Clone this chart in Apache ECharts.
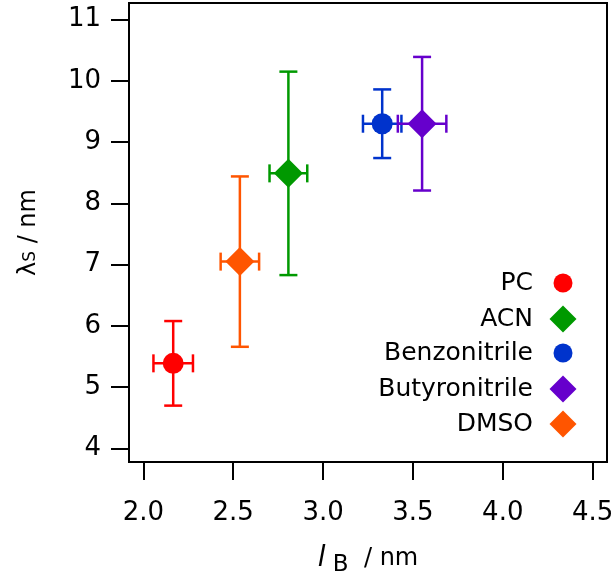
<!DOCTYPE html>
<html>
<head>
<meta charset="utf-8">
<script src="https://cdn.jsdelivr.net/npm/echarts@6/dist/echarts.min.js"></script>
<style>
html,body{margin:0;padding:0;background:#fff;}
#chart{width:616px;height:571px;}
</style>
</head>
<body>
<div id="chart"></div>
<script>
// ---- data ----
const solvents = ['PC', 'ACN', 'Benzonitrile', 'Butyronitrile', 'DMSO'];
const lB = [2.166, 2.807, 3.329, 3.551, 2.537];
const lBErr = [0.11, 0.105, 0.107, 0.135, 0.107];
const lambdaS = [5.39, 8.49, 9.30, 9.30, 7.05];
const lambdaSErr = [0.69, 1.66, 0.56, 1.09, 1.39];
const colors = ['#ff0000', '#009900', '#0033cc', '#6600cc', '#ff5500'];
const symbols = ['circle', 'diamond', 'circle', 'diamond', 'diamond'];
const xTicks = [2.0, 2.5, 3.0, 3.5, 4.0, 4.5];
const xTickLabels = ['2.0', '2.5', '3.0', '3.5', '4.0', '4.5'];
const yTicks = [4, 5, 6, 7, 8, 9, 10, 11];
const yTickLabels = ['4', '5', '6', '7', '8', '9', '10', '11'];

const FONT = 'DejaVu Sans';
const chart = echarts.init(document.getElementById('chart'), null, {renderer: 'canvas'});

const series = [];
solvents.forEach((name, i) => {
  series.push({
    name: name,
    type: 'custom',
    z: 2,
    silent: true,
    data: [[lB[i], lambdaS[i], lBErr[i], lambdaSErr[i]]],
    renderItem: function (params, api) {
      const x = api.value(0), y = api.value(1), ex = api.value(2), ey = api.value(3);
      const pT = api.coord([x, y + ey]);
      const pB = api.coord([x, y - ey]);
      const pL = api.coord([x - ex, y]);
      const pR = api.coord([x + ex, y]);
      const cap = 9;
      const st = {stroke: colors[i], lineWidth: 2.5, fill: null};
      return {
        type: 'group',
        children: [
          {type: 'line', shape: {x1: pT[0], y1: pT[1], x2: pB[0], y2: pB[1]}, style: st},
          {type: 'line', shape: {x1: pT[0] - cap, y1: pT[1], x2: pT[0] + cap, y2: pT[1]}, style: st},
          {type: 'line', shape: {x1: pB[0] - cap, y1: pB[1], x2: pB[0] + cap, y2: pB[1]}, style: st},
          {type: 'line', shape: {x1: pL[0], y1: pL[1], x2: pR[0], y2: pR[1]}, style: st},
          {type: 'line', shape: {x1: pL[0], y1: pL[1] - cap, x2: pL[0], y2: pL[1] + cap}, style: st},
          {type: 'line', shape: {x1: pR[0], y1: pR[1] - cap, x2: pR[0], y2: pR[1] + cap}, style: st}
        ]
      };
    }
  });
  series.push({
    name: name,
    type: 'scatter',
    z: 3,
    symbol: symbols[i],
    symbolSize: symbols[i] === 'circle' ? 21 : 29,
    itemStyle: {color: colors[i], opacity: 1},
    data: [[lB[i], lambdaS[i]]]
  });
});

const rowCenters = [283, 318, 353, 388, 423];
const legends = solvents.map((name, i) => {
  const isCircle = symbols[i] === 'circle';
  const sz = isCircle ? 19 : 27;
  return {
    orient: 'vertical',
    align: 'right',
    right: 616 - (563 + sz / 2),
    top: rowCenters[i] - sz / 2 + (isCircle ? -3 : 1),
    padding: 0,
    itemWidth: sz,
    itemHeight: sz,
    selectedMode: false,
    textStyle: {fontFamily: FONT, fontSize: 25, color: '#000', padding: [0, isCircle ? 15.5 : 11.5, 0, 0]},
    data: [{name: name, icon: symbols[i], itemStyle: {color: colors[i]}}]
  };
});

chart.setOption({
  animation: false,
  backgroundColor: '#fff',
  grid: {left: 129, right: 9, top: 3, bottom: 109, outerBoundsMode: 'none', containLabel: false,
         show: true, borderColor: '#000', borderWidth: 2, backgroundColor: 'transparent'},
  legend: legends,
  xAxis: {
    type: 'value',
    min: 1.92,
    max: 4.58,
    name: '{i|l}{b| B}{n|  / nm}',
    nameLocation: 'middle',
    nameGap: 78,
    nameTextStyle: {
      fontFamily: FONT, fontSize: 24, color: '#000',
      rich: {
        i: {fontFamily: FONT, fontSize: 28, fontStyle: 'italic', color: '#000'},
        b: {fontFamily: FONT, fontSize: 23, color: '#000', padding: [14, 0, 0, 0]},
        n: {fontFamily: FONT, fontSize: 24, color: '#000'}
      }
    },
    axisLine: {show: true, lineStyle: {color: '#000', width: 2}},
    axisTick: {show: true, length: 18, lineStyle: {color: '#000', width: 2}, customValues: xTicks},
    axisLabel: {
      fontFamily: FONT, fontSize: 26, color: '#000', margin: 38,
      customValues: xTicks,
      formatter: function (v) { const k = xTicks.findIndex(t => Math.abs(t - v) < 1e-6); return k >= 0 ? xTickLabels[k] : ''; }
    },
    splitLine: {show: false}
  },
  yAxis: {
    type: 'value',
    min: 3.78,
    max: 11.27,
    name: '{a|λ}{s|S}{a| / nm}',
    nameLocation: 'middle',
    nameGap: 88,
    nameTextStyle: {
      fontFamily: FONT, fontSize: 23, color: '#000',
      rich: {
        a: {fontFamily: FONT, fontSize: 24, color: '#000'},
        s: {fontFamily: FONT, fontSize: 17, color: '#000', padding: [4, 0, 0, 0]}
      }
    },
    axisLine: {show: true, lineStyle: {color: '#000', width: 2}},
    axisTick: {show: true, length: 18, lineStyle: {color: '#000', width: 2}, customValues: yTicks},
    axisLabel: {
      fontFamily: FONT, fontSize: 26, color: '#000', margin: 28,
      customValues: yTicks,
      formatter: function (v) { const k = yTicks.findIndex(t => Math.abs(t - v) < 1e-6); return k >= 0 ? yTickLabels[k] : ''; }
    },
    splitLine: {show: false}
  },
  series: series
});
</script>
</body>
</html>
